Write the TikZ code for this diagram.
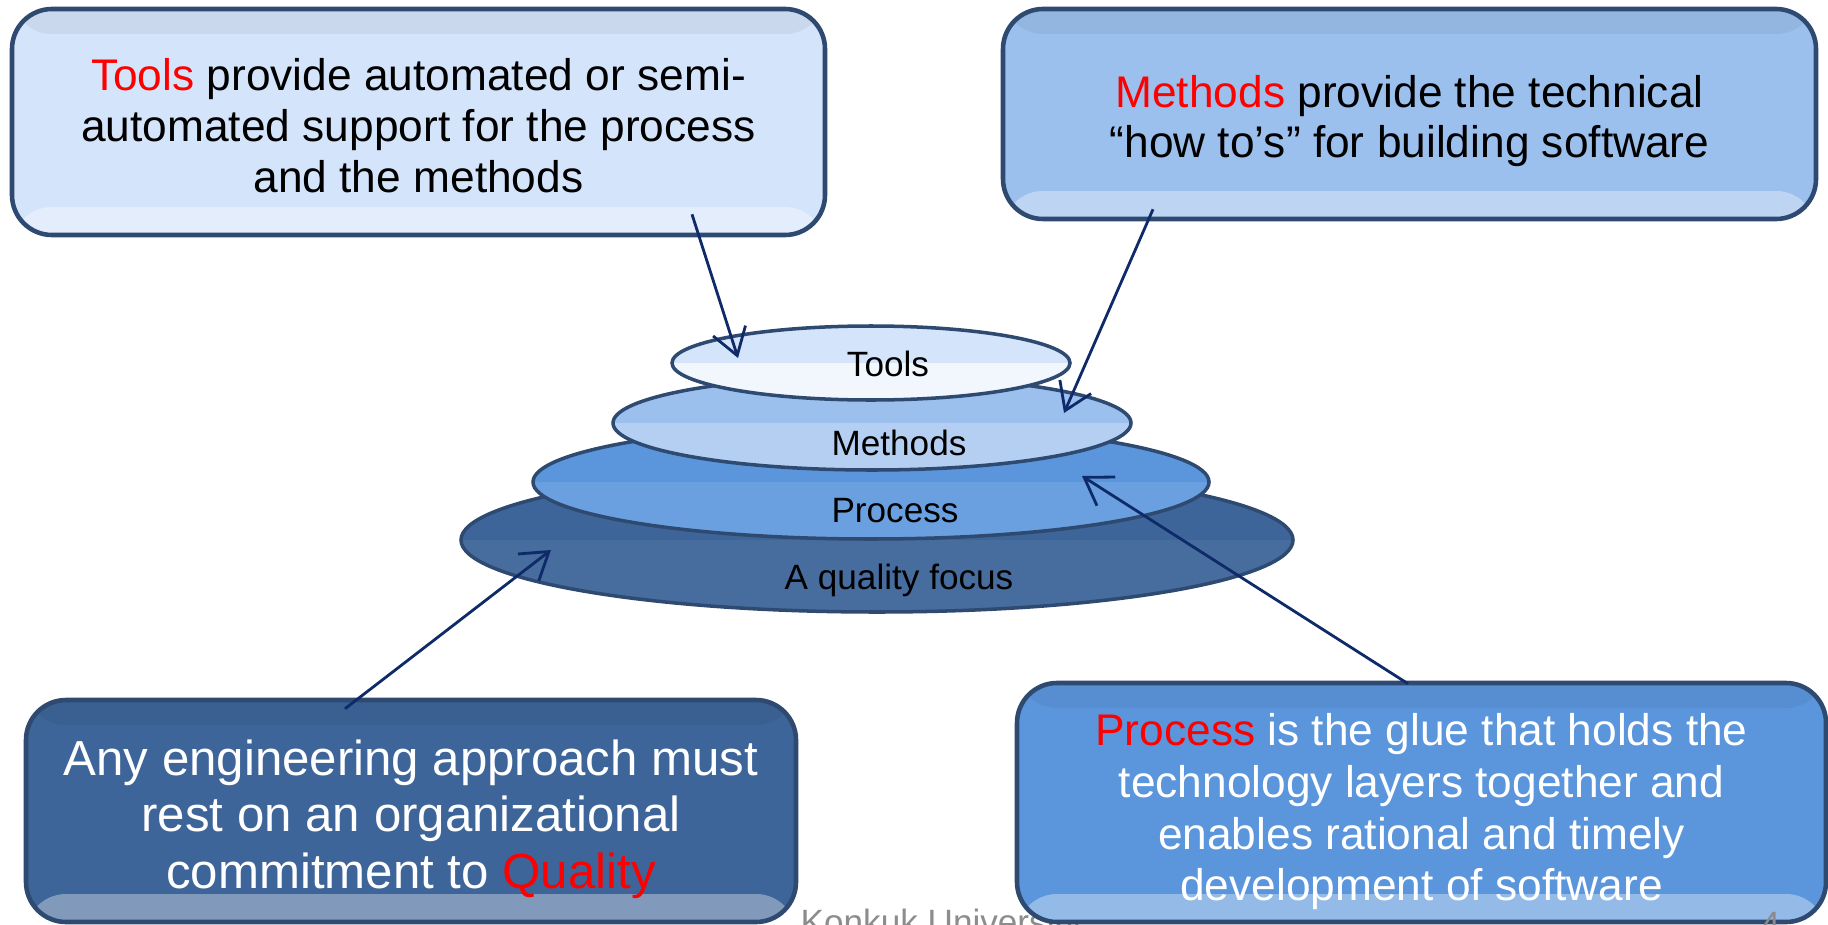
\documentclass[tikz,border=0pt]{standalone}
\usepackage{fontspec}
\setmainfont{Liberation Sans}
\usetikzlibrary{shapes.geometric,arrows.meta}

\definecolor{toolsblue}{HTML}{D4E4FA}
\definecolor{methodsblue}{HTML}{9BC0EE}
\definecolor{processblue}{HTML}{5B96DD}
\definecolor{qualityblue}{HTML}{3E6599}
\definecolor{rimblue}{HTML}{2E4A70}
\definecolor{pointerblue}{HTML}{0E2A69}
\definecolor{footgray}{HTML}{8C8C8C}

\tikzset{
  note/.style={draw=rimblue, line width=1.3pt, rounded corners=0.4cm, align=center, inner sep=0pt,
    path picture={
      \fill[white,opacity=0.35] ([yshift=0.28cm]path picture bounding box.south west) rectangle (path picture bounding box.south east);
      \fill[black,opacity=0.05] (path picture bounding box.north west) rectangle ([yshift=-0.25cm]path picture bounding box.north east);}},
  layer/.style={ellipse, draw=rimblue, line width=1pt, inner sep=0pt,
    path picture={
      \fill[white,opacity=#1] (path picture bounding box.west) rectangle (path picture bounding box.south east);}},
  layertext/.style={font=\fontsize{10}{12}\selectfont},
  pointer/.style={draw=pointerblue, line width=0.8pt, -{Straight Barb[length=2.6mm,width=3.4mm]}},
  footer/.style={text=footgray, font=\fontsize{10}{12}\selectfont, inner sep=0pt},
}

\begin{document}
\begin{tikzpicture}
    \useasboundingbox (0,0) rectangle (18.28,-9.24);

    % Stacked layers, bottom first
    \node[layer=0.05, fill=qualityblue, minimum width=8.32cm, minimum height=1.44cm] (qualitylayer) at (8.77,-5.40) {};
    \node[layer=0.1, fill=processblue, minimum width=6.76cm, minimum height=1.14cm] (processlayer) at (8.71,-4.82) {};
    \node[layer=0.25, fill=methodsblue, minimum width=5.18cm, minimum height=0.94cm] (methodslayer) at (8.72,-4.23) {};
    \node[layer=0.7, fill=toolsblue, minimum width=3.98cm, minimum height=0.74cm] (toolslayer) at (8.71,-3.63) {};

    \node[layertext] (qualitylbl) at ([shift={(0.22,-0.40)}]qualitylayer.center) {A quality focus};
    \node[layertext] (processlbl) at ([shift={(0.24,-0.29)}]processlayer.center) {Process};
    \node[layertext] (methodslbl) at ([shift={(0.27,-0.20)}]methodslayer.center) {Methods};
    \node[layertext] (toolslbl) at ([shift={(0.17,-0.01)}]toolslayer.center) {Tools};

    % Footer, partly hidden by the right note
    \node[footer, anchor=base west] (footer) at (8.00,-9.34) {Konkuk University};

    % Notes
    \node[note, fill=toolsblue, minimum width=8.13cm, minimum height=2.26cm,
          font=\fontsize{12.6}{14.5}\selectfont] (toolsnote) at (4.185,-1.22)
          {\rule{0pt}{11pt}\textcolor{red}{Tools} provide automated or semi-\\automated support for the process\\and the methods};
    \node[note, fill=methodsblue, minimum width=8.13cm, minimum height=2.10cm,
          font=\fontsize{12.6}{14.3}\selectfont] (methodsnote) at (14.095,-1.14)
          {\rule{0pt}{13pt}\textcolor{red}{Methods} provide the technical\\``how to's'' for building software};
    \node[note, fill=qualityblue, text=white, minimum width=7.70cm, minimum height=2.22cm,
          font=\fontsize{14}{16.1}\selectfont] (qualitynote) at (4.11,-8.11)
          {\rule{0pt}{14.8pt}Any engineering approach must\\rest on an organizational\\commitment to \textcolor{red}{Quality}};
    \node[note, fill=processblue, text=white, minimum width=8.09cm, minimum height=2.39cm,
          font=\fontsize{12.6}{14.7}\selectfont] (processnote) at (14.215,-8.025)
          {\rule{0pt}{14.5pt}\textcolor{red}{Process} is the glue that holds the\\technology layers together and\\enables rational and timely\\development of software};

    \node[footer, anchor=base west] (pagenum) at (17.60,-9.36) {4};

    % Pointers from the notes to the layers
    \draw[pointer] ([shift={(2.735,0.23)}]toolsnote.south) -- ([shift={(-1.33,0.05)}]toolslayer.center);
    \draw[pointer] ([shift={(-2.565,0.12)}]methodsnote.south) -- ([shift={(1.92,0.10)}]methodslayer.center);
    \draw[pointer] ([shift={(-0.135,-0.03)}]processnote.north) -- ([shift={(2.11,0.06)}]processlayer.center);
    \draw[pointer] ([shift={(-0.66,-0.11)}]qualitynote.north) -- ([shift={(-3.26,-0.10)}]qualitylayer.center);
\end{tikzpicture}
\end{document}
